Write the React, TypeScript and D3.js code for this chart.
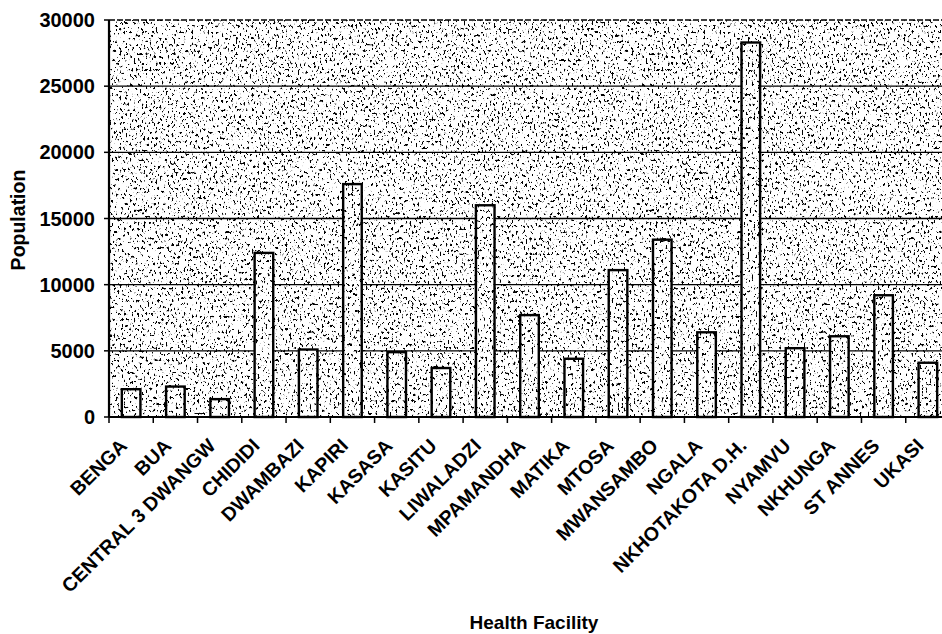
import React from "react";
import * as d3 from "d3";

const categories = [
  "BENGA", "BUA", "CENTRAL 3 DWANGW", "CHIDIDI", "DWAMBAZI", "KAPIRI", "KASASA",
  "KASITU", "LIWALADZI", "MPAMANDHA", "MATIKA", "MTOSA", "MWANSAMBO", "NGALA",
  "NKHOTAKOTA D.H.", "NYAMVU", "NKHUNGA", "ST ANNES", "UKASI",
];
const population = [
  2100, 2300, 1350, 12400, 5100, 17600, 4900, 3700, 16000, 7700,
  4400, 11100, 13400, 6400, 28300, 5200, 6100, 9200, 4100,
];
const yTicks = [0, 5000, 10000, 15000, 20000, 25000, 30000];
const xTitle = "Health Facility";
const yTitle = "Population";

const W = 942, H = 634;
const M = { left: 109, right: 950, top: 20, bottom: 417 };

export default function App() {
  const x = d3.scaleBand<string>().domain(categories).range([M.left, M.right]).paddingInner(0.58).paddingOuter(0.29);
  const slot = d3.scaleBand<string>().domain(categories).range([M.left, M.right]).padding(0);
  const y = d3.scaleLinear().domain([0, 30000]).range([M.bottom, M.top]);
  const font = "'Liberation Sans', Arial, sans-serif";
  const boundaries = categories.map((c) => slot(c) as number).concat([M.right]);

  return (
    <svg width={W} height={H} style={{ position: "fixed", left: 0, top: 0, background: "#fff" }} fontFamily={font}>
      <defs>
        <filter id="stip" x="0" y="0" width="1" height="1" filterUnits="objectBoundingBox">
          <feTurbulence type="fractalNoise" baseFrequency="0.5 0.32" numOctaves="2" seed="7" result="n" />
          <feColorMatrix in="n" type="matrix" values="0 0 0 0 0  0 0 0 0 0  0 0 0 0 0  -13 0 0 0 5.3" result="a" />
          <feFlood floodColor="#fff" result="w" />
          <feComposite in="a" in2="w" operator="over" />
        </filter>
        <filter id="stipBar" x="0" y="0" width="1" height="1" filterUnits="objectBoundingBox">
          <feTurbulence type="fractalNoise" baseFrequency="0.5 0.3" numOctaves="2" seed="11" result="n" />
          <feColorMatrix in="n" type="matrix" values="0 0 0 0 0  0 0 0 0 0  0 0 0 0 0  -13 0 0 0 5.2" result="a" />
          <feFlood floodColor="#fff" result="w" />
          <feComposite in="a" in2="w" operator="over" />
        </filter>
      </defs>

      {/* plot background */}
      <rect x={M.left} y={M.top} width={M.right - M.left} height={M.bottom - M.top} fill="#fff" filter="url(#stip)" />

      {/* gridlines */}
      {yTicks.slice(1).map((t) => (
        <line key={t} x1={M.left} x2={M.right} y1={y(t)} y2={y(t)} stroke="#000" strokeWidth={1.3}
          strokeDasharray={t === 30000 ? "6 2" : undefined} />
      ))}

      {/* bars */}
      {categories.map((c, i) => (
        <g key={c}>
          <rect x={x(c)} y={y(population[i])} width={x.bandwidth()} height={M.bottom - y(population[i])}
            fill="#fff" filter="url(#stipBar)" />
          <rect x={x(c)} y={y(population[i])} width={x.bandwidth()} height={M.bottom - y(population[i])}
            fill="none" stroke="#000" strokeWidth={2.4} />
        </g>
      ))}

      {/* axes */}
      <line x1={M.left} x2={M.left} y1={M.top} y2={M.bottom} stroke="#000" strokeWidth={2.2} />
      <line x1={M.left} x2={M.right} y1={M.bottom} y2={M.bottom} stroke="#000" strokeWidth={2} />
      {yTicks.map((t) => (
        <g key={t}>
          <line x1={M.left - 5} x2={M.left} y1={y(t)} y2={y(t)} stroke="#000" strokeWidth={1.5} />
          <text x={M.left - 14} y={y(t)} dy="0.35em" textAnchor="end" fontSize={20} fontWeight="bold">{t}</text>
        </g>
      ))}
      {boundaries.map((b, i) => (
        <line key={i} x1={b} x2={b} y1={M.bottom} y2={M.bottom + 6} stroke="#000" strokeWidth={1.5} />
      ))}
      {categories.map((c) => {
        const cx = (slot(c) as number) + slot.bandwidth() / 2;
        return (
          <text key={c} transform={`translate(${cx - 3},${447}) rotate(-45)`} textAnchor="end"
            fontSize={19.5} fontWeight="bold">{c}</text>
        );
      })}

      <text x={534} y={629} textAnchor="middle" fontSize={19} fontWeight="bold">{xTitle}</text>
      <text transform={`translate(25,${220}) rotate(-90)`} textAnchor="middle" fontSize={19.5}
        fontWeight="bold">{yTitle}</text>
    </svg>
  );
}
